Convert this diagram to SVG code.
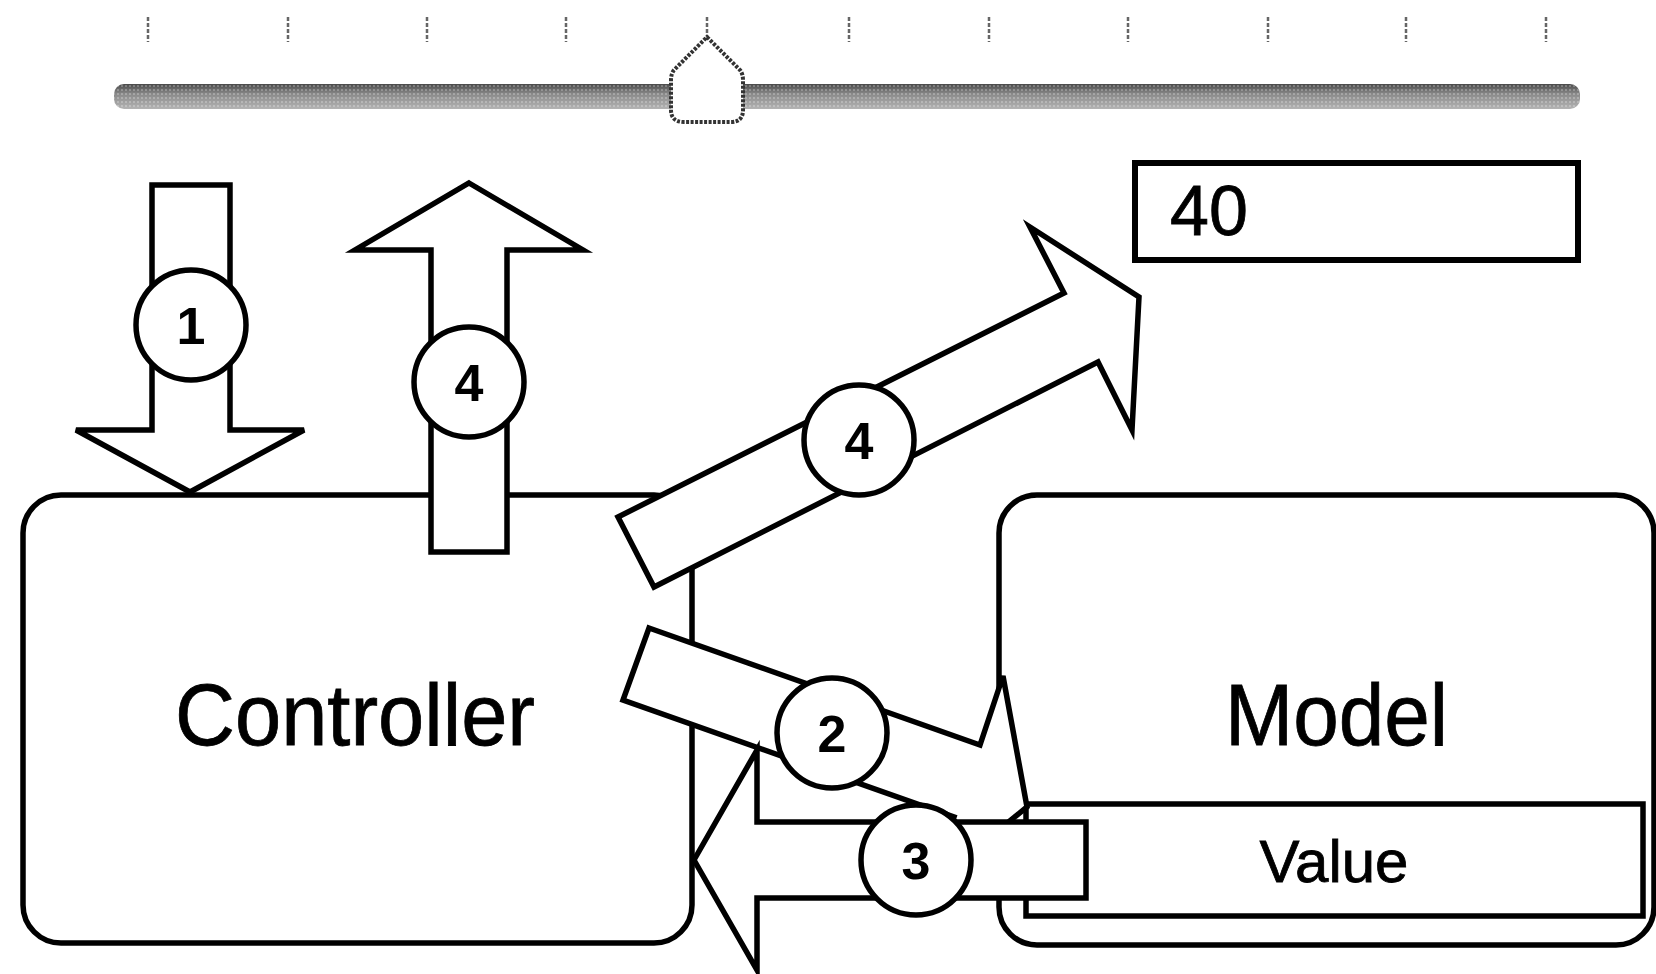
<svg xmlns="http://www.w3.org/2000/svg" width="1656" height="974" viewBox="0 0 1656 974">
  <style>
    .box { fill: #fff; stroke: #000; stroke-width: 5.5; }
    .arrow { fill: #fff; stroke: #000; stroke-width: 5.5; stroke-linejoin: miter; }
    .badge { fill: #fff; stroke: #000; stroke-width: 5.5; }
    .num { font-family: "Liberation Sans", Arial, sans-serif; font-weight: bold; font-size: 52px; text-anchor: middle; fill: #000; }
    .label { font-family: "Liberation Sans", Arial, sans-serif; fill: #000; stroke: #000; stroke-width: 0.8; }
    .tick { stroke: #666; stroke-width: 2.5; stroke-dasharray: 4 2; }
  </style>
  <defs>
    <linearGradient id="track" x1="0" y1="0" x2="0" y2="1">
      <stop offset="0" stop-color="#4a4a4a"/>
      <stop offset="0.4" stop-color="#8a8a8a"/>
      <stop offset="1" stop-color="#b4b4b4"/>
    </linearGradient>
    <pattern id="dots" width="4" height="4" patternUnits="userSpaceOnUse">
      <circle cx="2" cy="2" r="0.9" fill="#fff" fill-opacity="0.35"/>
    </pattern>
  </defs>

  <g id="slider">
    <line class="tick" x1="148" y1="17" x2="148" y2="42"/>
    <line class="tick" x1="288" y1="17" x2="288" y2="42"/>
    <line class="tick" x1="427" y1="17" x2="427" y2="42"/>
    <line class="tick" x1="566" y1="17" x2="566" y2="42"/>
    <line class="tick" x1="707" y1="17" x2="707" y2="42"/>
    <line class="tick" x1="849" y1="17" x2="849" y2="42"/>
    <line class="tick" x1="989" y1="17" x2="989" y2="42"/>
    <line class="tick" x1="1128" y1="17" x2="1128" y2="42"/>
    <line class="tick" x1="1268" y1="17" x2="1268" y2="42"/>
    <line class="tick" x1="1406" y1="17" x2="1406" y2="42"/>
    <line class="tick" x1="1546" y1="17" x2="1546" y2="42"/>
    <rect x="114" y="84" width="1466" height="25" rx="10" fill="url(#track)"/>
    <rect x="114" y="84" width="1466" height="25" rx="10" fill="url(#dots)"/>
    <path d="M707,37 L740,70 Q743,74 743,80 L743,110 Q743,122 731,122 L684,122 Q671,122 671,110 L671,80 Q671,74 674,70 Z" fill="#fff" stroke="#333" stroke-width="4" stroke-dasharray="3 1.5"/>
  </g>

  <g id="value-field">
    <rect x="1135" y="163" width="443" height="97" fill="#fff" stroke="#000" stroke-width="6"/>
    <text class="label" x="1170" y="235" font-size="70">40</text>
  </g>

  <g id="controller">
    <rect class="box" x="23" y="495" width="669" height="448" rx="38"/>
    <text class="label" x="175" y="745" font-size="88" textLength="360" lengthAdjust="spacingAndGlyphs">Controller</text>
  </g>

  <g id="model">
    <rect class="box" x="999" y="495" width="655" height="450" rx="38"/>
    <text class="label" x="1225" y="745" font-size="88" textLength="223" lengthAdjust="spacingAndGlyphs">Model</text>
    <g id="value">
      <rect class="box" x="1026" y="804" width="617" height="112"/>
      <text class="label" x="1334" y="882" font-size="60" text-anchor="middle">Value</text>
    </g>
  </g>

  <g id="connectors">
    <g id="step1">
      <polygon class="arrow" points="152,185 230,185 230,430 304,430 190,492 76,430 152,430"/>
      <circle class="badge" cx="191" cy="325" r="55"/>
      <text class="num" x="191" y="344">1</text>
    </g>
    <g id="step4-up">
      <polygon class="arrow" points="469,183 583,250 507,250 507,552 431,552 431,250 355,250"/>
      <circle class="badge" cx="469" cy="382" r="55"/>
      <text class="num" x="469" y="401">4</text>
    </g>
    <g id="step4-diag">
      <polygon class="arrow" points="618,517 1064,293 1030,227 1139,297 1132,430 1098,362 654,587"/>
      <circle class="badge" cx="859" cy="440" r="55"/>
      <text class="num" x="859" y="459">4</text>
    </g>
    <g id="step2">
      <polygon class="arrow" points="649,628 980,745 1003,676 1027,807 931,885 954,817 623,700"/>
      <circle class="badge" cx="832" cy="733" r="55"/>
      <text class="num" x="832" y="752">2</text>
    </g>
    <g id="step3">
      <polygon class="arrow" points="694,860 757,750 757,822 1086,822 1086,898 757,898 757,970"/>
      <circle class="badge" cx="916" cy="860" r="55"/>
      <text class="num" x="916" y="879">3</text>
    </g>
  </g>
</svg>
